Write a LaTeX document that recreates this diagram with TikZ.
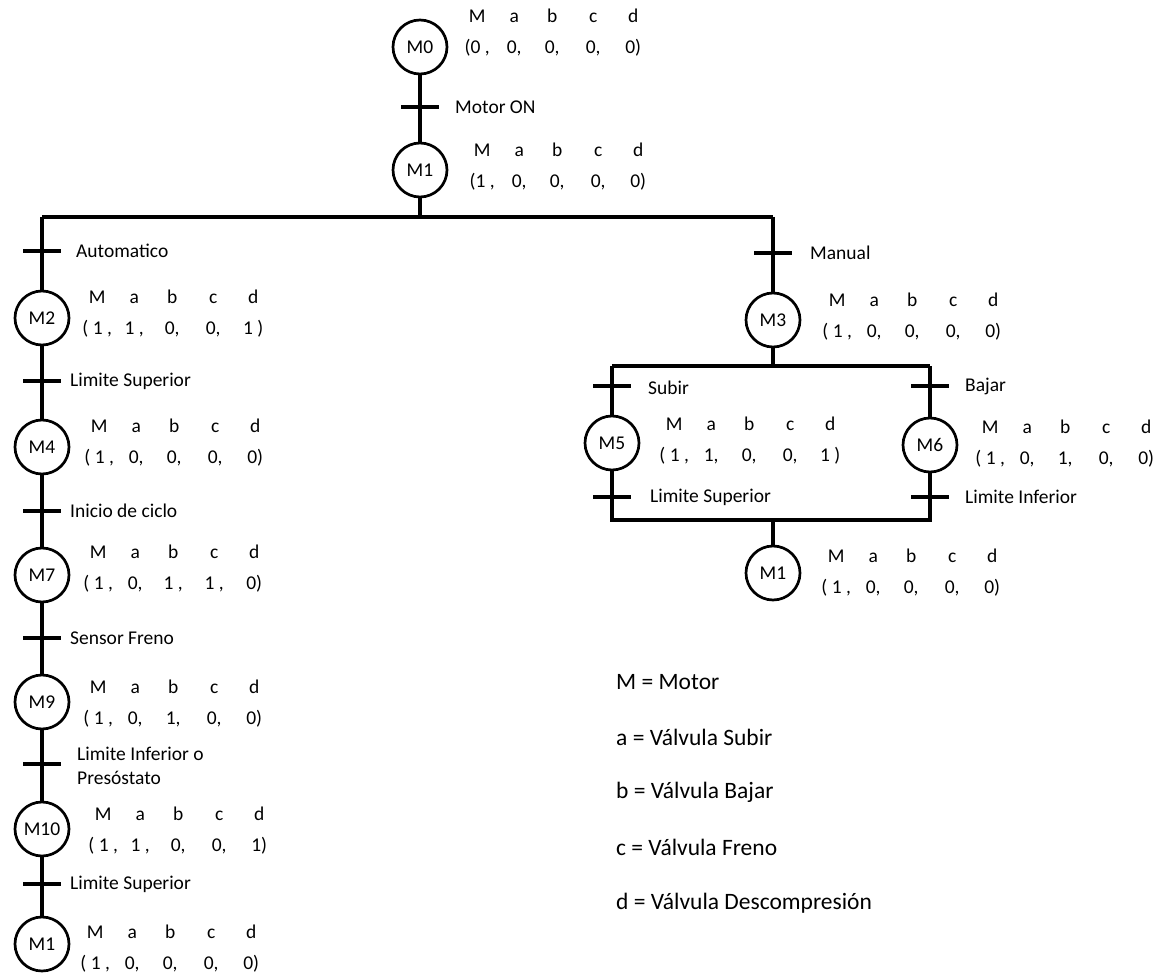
\documentclass[tikz,border=0pt]{standalone}
\usepackage{fontspec}
\setmainfont{Carlito}
\usepackage{array}
\setlength\tabcolsep{0pt}
\newcommand\fs{\fontsize{19.5}{31}\selectfont}
\newcommand\fsleg{\fontsize{23.5}{28}\selectfont}
\newcommand\stlab[8]{%
  \node[stl] (#1) at (#2-18,#3) {\begin{tabular}{@{}wc{36pt}wc{38pt}wc{38pt}wc{44pt}wc{36pt}@{}}M&a&b&c&d\\#4&#5&#6&#7&#8\end{tabular}};}
\tikzset{
  state/.style={circle, draw, line width=2.7pt, minimum size=54pt, inner sep=0pt, font=\fs},
  trans/.style={fill, minimum width=38pt, minimum height=3.3pt, inner sep=0pt},
  lbl/.style={anchor=west, inner sep=0pt, font=\fs},
  stl/.style={anchor=west, inner sep=0pt, font=\fs},
  leg/.style={anchor=west, inner sep=0pt, font=\fsleg},
  flow/.style={line width=3.3pt}
}
\begin{document}
\begin{tikzpicture}[x=1pt,y=-1pt]
\useasboundingbox (0,0) rectangle (1166,976);
% states
\node[state] (M0) at (420,47) {M0};
\node[state] (M1) at (420,170) {M1};
\node[state] (M2) at (42,318) {M2};
\node[state] (M4) at (42,447) {M4};
\node[state] (M7) at (42,575) {M7};
\node[state] (M9) at (42,702) {M9};
\node[state] (M10) at (42,829) {M10};
\node[state] (M1b) at (42,944) {M1};
\node[state] (M3) at (773,320) {M3};
\node[state] (M5) at (612,443) {M5};
\node[state] (M6) at (930,445) {M6};
\node[state] (M1r) at (773,573) {M1};
% coordinates
\coordinate (dL) at (42,217);
\coordinate (dR) at (773,217);
\coordinate (rTL) at (612,366);
\coordinate (rTR) at (930,366);
\coordinate (rBL) at (612,520);
\coordinate (rBR) at (930,520);
% connectors
\draw[flow] (M0) -- (M1);
\draw[flow] (M1) -- (M1 |- dL);
\draw[flow] (dL) -- (dR);
\draw[flow] (dL) -- (M2);
\draw[flow] (M2) -- (M4);
\draw[flow] (M4) -- (M7);
\draw[flow] (M7) -- (M9);
\draw[flow] (M9) -- (M10);
\draw[flow] (M10) -- (M1b);
\draw[flow] (dR) -- (M3);
\draw[flow] (M3) -- (M3 |- rTL);
\draw[flow] (rTL) -- (rTR);
\draw[flow] (rTL) -- (M5);
\draw[flow] (rTR) -- (M6);
\draw[flow] (M5) -- (rBL) -- (rBR) -- (M6);
\draw[flow] (M3 |- rBL) -- (M1r);
% transitions
\node[trans] (t1) at (420,107) {};
\node[lbl] (t1l) at (455,107) {Motor ON};
\node[trans] (t2) at (42,251) {};
\node[lbl] (t2l) at (76,251) {Automatico};
\node[trans] (t3) at (42,381) {};
\node[lbl] (t3l) at (70,381) {Limite Superior};
\node[trans] (t4) at (42,511) {};
\node[lbl] (t4l) at (70,511) {Inicio de ciclo};
\node[trans] (t5) at (42,638) {};
\node[lbl] (t5l) at (70,638) {Sensor Freno};
\node[trans] (t6) at (42,764) {};
\node[lbl, align=left, font=\fontsize{19.5}{24}\selectfont] (t6l) at (77,766) {Limite Inferior o\\Presóstato};
\node[trans] (t7) at (42,884) {};
\node[lbl] (t7l) at (70,884) {Limite Superior};
\node[trans] (t8) at (773,253) {};
\node[lbl] (t8l) at (810,253) {Manual};
\node[trans] (t9) at (612,386) {};
\node[lbl] (t9l) at (648,388) {Subir};
\node[trans] (t10) at (930,386) {};
\node[lbl] (t10l) at (965,386) {Bajar};
\node[trans] (t11) at (612,497) {};
\node[lbl] (t11l) at (650,497) {Limite Superior};
\node[trans] (t12) at (930,497) {};
\node[lbl] (t12l) at (965,497) {Limite Inferior};
% state vectors
\stlab{v0}{477}{32}{(0 ,}{0,}{0,}{0,}{0)}
\stlab{v1}{482}{166}{(1 ,}{0,}{0,}{0,}{0)}
\stlab{v2}{97}{313}{( 1 ,}{1 ,}{0,}{0,}{1 )}
\stlab{v4}{99}{442}{( 1 ,}{0,}{0,}{0,}{0)}
\stlab{v7}{98}{568}{( 1 ,}{0,}{1 ,}{1 ,}{0)}
\stlab{v9}{98}{703}{( 1 ,}{0,}{1,}{0,}{0)}
\stlab{v10}{103}{830}{( 1 ,}{1 ,}{0,}{0,}{1)}
\stlab{v1b}{95}{948}{( 1 ,}{0,}{0,}{0,}{0)}
\stlab{v3}{837}{316}{( 1 ,}{0,}{0,}{0,}{0)}
\stlab{v5}{674}{440}{( 1 ,}{1,}{0,}{0,}{1 )}
\stlab{v6}{990}{443}{( 1 ,}{0,}{1,}{0,}{0)}
\stlab{v1r}{836}{572}{( 1 ,}{0,}{0,}{0,}{0)}
% legend
\node[leg] (lM) at (616,682) {M = Motor};
\node[leg] (la) at (616,737) {a = Válvula Subir};
\node[leg] (lb) at (616,792) {b = Válvula Bajar};
\node[leg] (lc) at (616,847) {c = Válvula Freno};
\node[leg] (ld) at (616,903) {d = Válvula Descompresión};
\end{tikzpicture}
\end{document}
